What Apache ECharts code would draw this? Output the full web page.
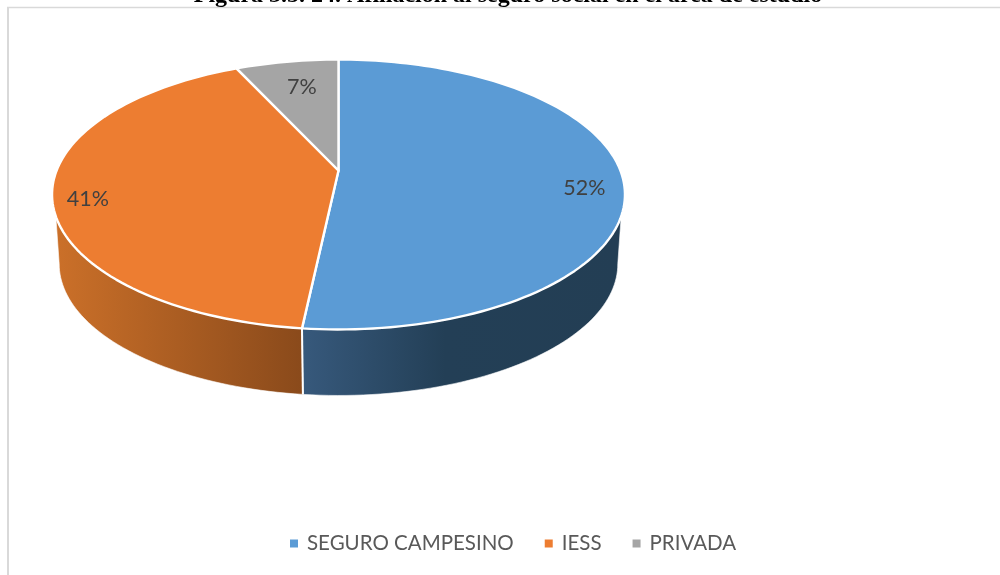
<!DOCTYPE html>
<html>
<head>
<meta charset="utf-8">
<style>html,body{margin:0;padding:0;background:#fff}#c{width:1000px;height:575px}</style>
<script src="https://cdn.jsdelivr.net/npm/echarts@6/dist/echarts.min.js"></script>
</head>
<body>
<div id="c"></div>
<script>
const categories = ['SEGURO CAMPESINO', 'IESS', 'PRIVADA'];
const shares = [51.7, 41.4, 6.9];
const titleText = 'Figura 3.5. 24. Afiliación al seguro social en el área de estudio';

const faceColors = ['#5B9BD5', '#ED7D31', '#A5A5A5'];
const wallShades = [
  { x0: 302, x1: 620, stops: [[0, '#37597C'], [0.45, '#233F56'], [1, '#233E54']] },
  { x0: 55, x1: 302, stops: [[0, '#CB7029'], [1, '#8A4A1B']] },
  null
];
const labelPlace = [{ r: 0.866, dy: 11 }, { r: 0.878, dy: 9 }, { r: 0.674, dy: -6 }];

// Perspective view of the disc
const cx = 338.5, apexY = 170.5, kP = 0.1778, scaleX = 281.9, scaleY = 130.7;
const depthFront = 66, bottomScale = 0.975;
const topLimit = [109.3, 250.7], bottomLimit = [100.2, 259.8];

function projectTop(deg, r) {
  const t = deg * Math.PI / 180, s = -Math.cos(t) * r, X = Math.sin(t) * r;
  const d = 1 - kP * s;
  return [cx + scaleX * X / d, apexY + scaleY * s / d];
}
function projectBottom(deg) {
  const p = projectTop(deg, 1);
  const frontY = apexY + scaleY / (1 - kP);
  const baseApex = frontY + depthFront - (frontY - apexY) * bottomScale;
  return [cx + (p[0] - cx) * bottomScale, baseApex + (p[1] - apexY) * bottomScale];
}
function arc(fn, a, b) {
  const pts = [], n = Math.max(2, Math.ceil(Math.abs(b - a) / 1.5));
  for (let i = 0; i <= n; i++) pts.push(fn(a + (b - a) * i / n));
  return pts;
}

const total = shares.reduce((a, b) => a + b, 0);
let running = 0;
const spans = shares.map(v => { const s = [running / total * 360, (running + v) / total * 360]; running += v; return s; });

function renderSlice(idx) {
  return function (params, api) {
    const a = api.value(0), b = api.value(1), children = [];
    const ta = Math.max(a, topLimit[0]), tb = Math.min(b, topLimit[1]);
    const ba = Math.max(a, bottomLimit[0]), bb = Math.min(b, bottomLimit[1]);
    const shade = wallShades[idx];
    if (shade && ta < tb) {
      const pts = arc(d => projectTop(d, 1), ta, tb).concat(arc(projectBottom, bb, ba));
      children.push({
        type: 'polygon', z2: 1, shape: { points: pts },
        style: {
          fill: new echarts.graphic.LinearGradient(shade.x0, 0, shade.x1, 0,
            shade.stops.map(s => ({ offset: s[0], color: s[1] })), true),
          stroke: '#fff', lineWidth: 0.6, lineJoin: 'round'
        }
      });
      if (b > topLimit[0] && b < topLimit[1]) {
        const p0 = projectTop(b, 1), p1 = projectBottom(b);
        children.push({
          type: 'line', z2: 1.5,
          shape: { x1: p0[0], y1: p0[1], x2: p1[0], y2: p1[1] },
          style: { stroke: '#fff', lineWidth: 2 }
        });
      }
    }
    const face = [projectTop(0, 0)].concat(arc(d => projectTop(d, 1), a, b));
    children.push({
      type: 'polygon', z2: 2, shape: { points: face },
      style: { fill: faceColors[idx], stroke: '#fff', lineWidth: 2.4, lineJoin: 'round' }
    });
    const place = labelPlace[idx], lp = projectTop((a + b) / 2, place.r);
    children.push({
      type: 'text', z2: 3, x: lp[0], y: lp[1] + place.dy,
      style: {
        text: Math.round(shares[idx]) + '%', fill: '#404040',
        font: '21.5px Lato', align: 'center', verticalAlign: 'middle'
      }
    });
    return { type: 'group', children };
  };
}

const chart = echarts.init(document.getElementById('c'), null, { renderer: 'canvas' });
chart.setOption({
  animation: false,
  backgroundColor: '#fff',
  title: {
    text: titleText, left: 503, top: -21, textAlign: 'center',
    textStyle: { fontFamily: 'Liberation Serif', fontWeight: 'bold', fontSize: 24, color: '#000' }
  },
  legend: {
    data: categories, left: 285, top: 528, icon: 'rect', itemWidth: 8, itemHeight: 8,
    itemGap: 31, selectedMode: false,
    textStyle: { fontFamily: 'Lato', fontSize: 20.5, color: '#595959', padding: [0, 0, 0, 4] }
  },
  graphic: [
    { type: 'line', shape: { x1: 7, y1: 7.5, x2: 1000, y2: 7.5 }, style: { stroke: '#D9D9D9', lineWidth: 1.5 }, silent: true },
    { type: 'line', shape: { x1: 8, y1: 7, x2: 8, y2: 575 }, style: { stroke: '#D9D9D9', lineWidth: 2 }, silent: true }
  ],
  series: categories.map((name, i) => ({
    type: 'custom', name, coordinateSystem: 'none', silent: true,
    itemStyle: { color: faceColors[i] },
    renderItem: renderSlice(i),
    data: [{ name, value: spans[i] }]
  }))
});
</script>
</body>
</html>
